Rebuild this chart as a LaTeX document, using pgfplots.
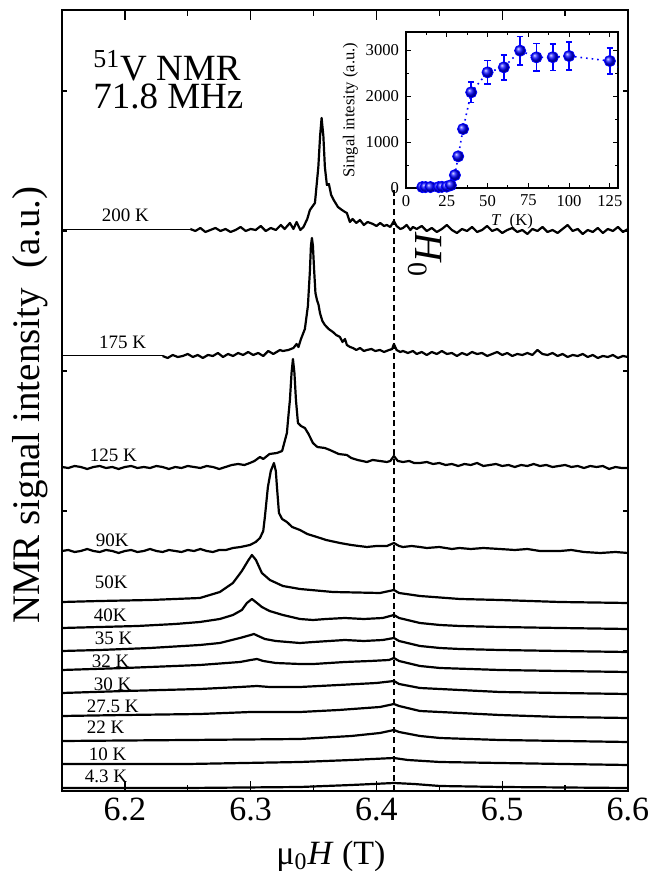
\documentclass[border=0pt]{standalone}
\usepackage{fontspec}
\setmainfont{Liberation Serif}
\usepackage{pgfplots}
\pgfplotsset{compat=1.18}

\begin{document}
\begin{tikzpicture}
% page: 668 x 871 px at 0.5pt per px, axis corner at (0,0)
\path[use as bounding box] (-31pt,-40pt) rectangle (303pt,395.5pt);

\begin{axis}[
  at={(0,0)}, anchor=south west,
  scale only axis, width=283pt, height=390.5pt,
  xmin=6.15, xmax=6.6, ymin=0, ymax=781,
  xtick={6.2,6.3,6.4,6.5,6.6}, minor x tick num=1,
  ytick=\empty,
  extra y ticks={140,280,420,560,700}, extra y tick labels={},
  extra y tick style={major tick length=2.5pt},
  major tick length=5pt, minor tick length=3pt,
  tick style={black, line width=0.7pt},
  axis line style={line width=1pt},
  xticklabel style={/pgf/number format/fixed, /pgf/number format/precision=1,
    /pgf/number format/fixed zerofill},
  /pgf/number format/assume math mode=true,
  tick label style={font=\fontsize{17}{17}\selectfont},
  xlabel={μ\textsubscript{0}\textit{H} (T)},
  xlabel style={font=\fontsize{17}{17}\selectfont, at={(rel axis cs:0.5,0)}, anchor=base, yshift=-36.5pt, xshift=-7pt},
  ylabel={NMR signal intensity~ (a.u.)},
  ylabel style={font=\fontsize{19.5}{19.5}\selectfont, at={(rel axis cs:-0.0565,0.494)}, anchor=center},
  spec/.style={black, line width=1.1pt, line join=round, mark=none},
]

% dashed H0 line
\addplot[black, line width=0.6pt, dash pattern=on 3pt off 1.8pt] coordinates {(6.414,0) (6.414,603)};

% 200 K
\addplot[black, line width=0.5pt] coordinates {(6.15,561) (6.252,561)};
\addplot[spec] coordinates {
(6.252,562) (6.256,560) (6.260,563) (6.264,559) (6.268,561) (6.272,563) (6.276,560) (6.280,562)
(6.284,559) (6.288,561) (6.292,564) (6.296,560) (6.300,562) (6.304,561) (6.308,565) (6.312,560)
(6.316,563) (6.320,561) (6.324,566) (6.327,562) (6.3312,568) (6.334,562) (6.3365,569) (6.3395,561)
(6.342,564) (6.345,572) (6.3471,581) (6.3511,588) (6.3538,624) (6.3552,655) (6.3564,673) (6.3578,655)
(6.3590,624) (6.3606,606) (6.3622,607) (6.3640,596) (6.3660,591) (6.3694,584) (6.3726,581) (6.3750,579)
(6.3765,578) (6.3789,569) (6.381,572) (6.384,568) (6.3869,571) (6.390,566) (6.393,569) (6.3972,567)
(6.400,565) (6.403,568) (6.406,565) (6.4083,566) (6.411,564) (6.4139,570) (6.416,565) (6.419,562)
(6.4211,563) (6.424,566) (6.427,561) (6.429,564) (6.432,562) (6.436,565) (6.440,560) (6.444,563)
(6.448,559) (6.452,562) (6.456,566) (6.460,561) (6.464,558) (6.468,562) (6.472,560) (6.476,564)
(6.480,559) (6.484,561) (6.488,565) (6.492,560) (6.496,562) (6.500,558) (6.504,561) (6.508,563)
(6.512,559) (6.516,561) (6.520,557) (6.524,562) (6.528,560) (6.532,564) (6.536,559) (6.540,561)
(6.544,558) (6.548,562) (6.552,566) (6.556,560) (6.560,562) (6.564,557) (6.568,561) (6.572,559)
(6.576,563) (6.580,558) (6.584,562) (6.588,560) (6.592,564) (6.596,559) (6.600,562)
};

% 175 K
\addplot[black, line width=0.5pt] coordinates {(6.15,435) (6.230,435)};
\addplot[spec] coordinates {
(6.230,435) (6.234,433) (6.238,436) (6.242,434) (6.246,435) (6.250,437) (6.254,434) (6.258,436)
(6.262,433) (6.266,436) (6.270,435) (6.274,438) (6.278,434) (6.282,437) (6.286,435) (6.290,438)
(6.294,436) (6.298,439) (6.302,436) (6.306,438) (6.310,435) (6.314,440) (6.318,437) (6.3233,441)
(6.3256,440) (6.3300,441) (6.3340,443) (6.3365,447) (6.3380,444) (6.3400,452) (6.3431,462) (6.3455,485)
(6.3471,520) (6.3479,545) (6.3487,553) (6.3495,545) (6.3505,520) (6.3515,498) (6.3527,491) (6.3540,486)
(6.3551,478) (6.3570,470) (6.3590,466) (6.3620,462) (6.3654,459) (6.3680,456) (6.3710,454) (6.3730,449)
(6.3750,452) (6.3765,446) (6.3790,444) (6.3813,443) (6.3840,441) (6.3870,443) (6.3900,440) (6.3924,441)
(6.3960,442) (6.3990,440) (6.4028,441) (6.4060,439) (6.4100,441) (6.4125,442) (6.4139,447) (6.4160,441)
(6.4190,439) (6.4211,440) (6.4250,438) (6.4290,440) (6.4320,437) (6.436,439) (6.440,436) (6.444,439)
(6.448,437) (6.452,440) (6.456,437) (6.460,438) (6.464,435) (6.468,438) (6.472,436) (6.476,439)
(6.480,437) (6.484,438) (6.488,435) (6.492,437) (6.496,439) (6.500,436) (6.504,438) (6.508,435)
(6.512,437) (6.516,436) (6.520,438) (6.524,436) (6.528,441) (6.532,437) (6.536,436) (6.540,438)
(6.544,435) (6.548,437) (6.552,434) (6.556,436) (6.560,435) (6.564,437) (6.568,434) (6.572,436)
(6.576,433) (6.580,435) (6.584,434) (6.588,436) (6.592,433) (6.596,435) (6.600,434)
};

% 125 K
\addplot[spec] coordinates {
(6.150,324) (6.155,323) (6.160,325) (6.165,324) (6.170,322) (6.175,324) (6.180,325) (6.185,323)
(6.190,324) (6.195,322) (6.200,324) (6.205,325) (6.210,323) (6.215,324) (6.220,323) (6.225,325)
(6.230,324) (6.235,322) (6.240,324) (6.245,323) (6.250,325) (6.255,324) (6.260,323) (6.265,325)
(6.270,324) (6.275,322) (6.280,324) (6.285,326) (6.290,327) (6.295,326) (6.2994,328) (6.3030,330)
(6.3074,334) (6.3100,332) (6.3150,337) (6.3209,338) (6.3250,340) (6.3288,358) (6.3300,375) (6.3312,391)
(6.3325,418) (6.3336,432) (6.3348,418) (6.3360,391) (6.3376,368) (6.3400,365) (6.3431,363) (6.3460,357)
(6.3495,348) (6.3530,344) (6.3590,343) (6.3630,341) (6.3700,337) (6.3765,336) (6.3800,333) (6.3850,331)
(6.3924,329) (6.3970,331) (6.4028,330) (6.4083,329) (6.4110,330) (6.4139,335) (6.4170,330) (6.4211,329)
(6.4260,330) (6.4300,328) (6.4346,328) (6.440,329) (6.445,327) (6.450,328) (6.455,326) (6.460,327)
(6.465,325) (6.470,327) (6.475,326) (6.480,328) (6.485,325) (6.490,326) (6.495,327) (6.500,325)
(6.505,326) (6.510,324) (6.515,326) (6.520,325) (6.525,327) (6.530,325) (6.535,326) (6.540,324)
(6.545,325) (6.550,326) (6.555,324) (6.560,325) (6.565,323) (6.570,325) (6.575,324) (6.580,325)
(6.585,322) (6.590,324) (6.595,323) (6.600,323)
};

% 90 K
\addplot[spec] coordinates {
(6.150,240) (6.155,241) (6.160,239) (6.165,240) (6.170,242) (6.175,240) (6.180,239) (6.185,241)
(6.190,240) (6.195,238) (6.200,240) (6.205,241) (6.210,239) (6.215,240) (6.220,242) (6.225,240)
(6.230,239) (6.235,241) (6.240,240) (6.245,239) (6.250,241) (6.255,240) (6.260,242) (6.265,240)
(6.270,239) (6.275,241) (6.2803,241) (6.2859,243) (6.2920,244) (6.2994,246) (6.3040,249) (6.3074,253)
(6.3100,260) (6.3113,274) (6.3137,304) (6.3160,320) (6.3185,328) (6.3200,320) (6.3209,304) (6.3225,278)
(6.3250,272) (6.3288,269) (6.3330,264) (6.3392,261) (6.3450,257) (6.3527,254) (6.3600,251) (6.3710,248)
(6.3800,246) (6.3860,245) (6.3924,244) (6.4000,245) (6.4083,245) (6.4139,248) (6.4180,245) (6.4211,244)
(6.4280,245) (6.4346,244) (6.440,243) (6.450,244) (6.460,242) (6.466,243) (6.475,242) (6.485,243)
(6.498,242) (6.510,241) (6.520,242) (6.530,240) (6.546,240) (6.555,241) (6.565,239) (6.578,238)
(6.590,239) (6.600,238)
};

% 50 K
\addplot[spec] coordinates {
(6.150,189) (6.180,190) (6.220,191) (6.2596,193) (6.2755,199) (6.2859,208) (6.2930,220) (6.2978,230)
(6.3010,236) (6.3042,231) (6.3089,218) (6.3153,211) (6.3256,205) (6.3392,202) (6.3654,199) (6.4028,198)
(6.4139,201) (6.4180,198) (6.4346,195) (6.4664,192) (6.4982,191) (6.5459,189) (6.6000,188)
};

% 40 K
\addplot[spec] coordinates {
(6.150,163) (6.180,164) (6.210,165) (6.240,167) (6.2596,169) (6.2755,172) (6.2859,176) (6.2930,181)
(6.2970,188) (6.3010,192) (6.3050,188) (6.3089,184) (6.3150,180) (6.3256,176) (6.3392,172) (6.3495,171)
(6.3600,172) (6.3749,173) (6.3900,172) (6.4050,173) (6.4139,176) (6.4180,173) (6.4346,168) (6.4505,166)
(6.4664,165) (6.4982,164) (6.5459,163) (6.6000,162)
};

% 35 K
\addplot[spec] coordinates {
(6.150,140) (6.180,141) (6.2199,143) (6.2596,146) (6.2755,148) (6.2915,153) (6.3000,156) (6.3026,157)
(6.3060,155) (6.3113,152) (6.3200,150) (6.3392,148) (6.3500,149) (6.3749,151) (6.3900,150) (6.4050,151)
(6.4139,153) (6.4180,150) (6.4346,145) (6.4505,143) (6.4664,142) (6.4982,141) (6.5459,140) (6.6000,139)
};

% 32 K
\addplot[spec] coordinates {
(6.150,121) (6.200,123) (6.2596,126) (6.2915,129) (6.3000,131) (6.3050,132) (6.3100,130) (6.3200,128)
(6.3392,127) (6.3500,127) (6.3749,129) (6.3950,130) (6.4100,131) (6.4139,133) (6.4180,130) (6.4346,125)
(6.4505,123) (6.4982,121) (6.5459,120) (6.6000,119)
};

% 30 K
\addplot[spec] coordinates {
(6.150,98) (6.200,100) (6.2596,102) (6.2915,104) (6.3050,105) (6.3150,104) (6.3392,104) (6.3700,106)
(6.4000,108) (6.4139,110) (6.4180,107) (6.4346,103) (6.4505,102) (6.4982,99) (6.5459,98) (6.6000,97)
};

% 27.5 K
\addplot[spec] coordinates {
(6.150,75) (6.200,76) (6.2596,77) (6.3000,79) (6.3392,79) (6.3700,81) (6.4028,84) (6.4139,87)
(6.4180,85) (6.4346,80) (6.4505,79) (6.4982,76) (6.5459,74) (6.6000,73)
};

% 22 K
\addplot[spec] coordinates {
(6.150,50) (6.250,51) (6.3392,52) (6.3800,55) (6.4028,58) (6.4139,61) (6.4180,59) (6.4346,55)
(6.4505,53) (6.4982,51) (6.6000,49)
};

% 10 K
\addplot[spec] coordinates {
(6.150,27) (6.250,27) (6.3392,29) (6.3800,31) (6.4139,33) (6.4250,31) (6.4505,29) (6.4982,28) (6.6000,26)
};

% 4.3 K
\addplot[spec] coordinates {
(6.150,3) (6.250,3) (6.3392,4) (6.3800,6) (6.4139,8) (6.4300,7) (6.4505,5) (6.5000,4) (6.6000,3)
};

\begin{scope}[font=\fontsize{9.5}{10}\selectfont]
\node[anchor=base west] at (axis cs:6.1761,569) {200 K};
\node[anchor=base west] at (axis cs:6.1738,442) {175 K};
\node[anchor=base west] at (axis cs:6.1666,329) {125 K};
\node[anchor=base west] at (axis cs:6.1714,244) {90K};
\node[anchor=base west] at (axis cs:6.1706,202) {50K};
\node[anchor=base west] at (axis cs:6.1698,169) {40K};
\node[anchor=base west] at (axis cs:6.1706,146) {35 K};
\node[anchor=base west] at (axis cs:6.1682,123) {32 K};
\node[anchor=base west] at (axis cs:6.1698,100) {30 K};
\node[anchor=base west] at (axis cs:6.1642,78) {27.5 K};
\node[anchor=base west] at (axis cs:6.1642,57) {22 K};
\node[anchor=base west] at (axis cs:6.1658,31) {10 K};
\node[anchor=base west] at (axis cs:6.1626,9) {4.3 K};
\end{scope}

\node[anchor=north west, align=left, inner sep=0pt, font=\fontsize{18.5}{14}\selectfont]
  at (axis cs:6.1746,741) {\textsuperscript{51}V NMR\\71.8 MHz};
\node[rotate=-90, font=\fontsize{20}{20}\selectfont] at (axis cs:6.4386,536) {\textit{H}\textsubscript{0}};
\end{axis}

% inset
\begin{axis}[
  at={(172pt,301.5pt)}, anchor=south west,
  scale only axis, width=106pt, height=78pt,
  xmin=0, xmax=130, ymin=0, ymax=3400,
  xtick={0,25,...,125}, minor x tick num=1,
  ytick={0,1000,2000,3000}, minor y tick num=1,
  scaled ticks=false,
  /pgf/number format/1000 sep={},
  /pgf/number format/assume math mode=true,
  major tick length=2.5pt, minor tick length=1.5pt,
  tick style={black, line width=0.5pt},
  axis line style={line width=0.7pt},
  tick label style={font=\fontsize{8.3}{8.3}\selectfont},
  label style={font=\fontsize{8.3}{8.3}\selectfont},
  xlabel={\textit{T}~ (K)},
  xlabel style={yshift=3pt},
  ylabel={Singal intesity (a.u.)},
  ylabel style={yshift=-3pt},
]
\addplot[blue, dotted, line width=0.8pt] coordinates {
(10,20) (12,20) (15,20) (20,20) (22,25) (25,30) (27.5,60) (30,280) (32,690) (35,1285) (40,2085)
(50,2520) (60,2629) (70,2992) (80,2847) (90,2850) (100,2876) (125,2767) (130,2640)
};
\addplot[blue, only marks, mark=ball, mark size=2.8pt, ball color=blue,
  error bars/.cd, y dir=both, y explicit,
  error bar style={blue, line width=0.9pt},
  error mark options={rotate=90, mark size=1.6pt, blue, line width=0.9pt}]
coordinates {
(10,20) +- (0,0) (12,20) +- (0,0) (15,20) +- (0,0) (20,20) +- (0,0) (22,25) +- (0,0)
(25,30) +- (0,0) (27.5,60) +- (0,0) (30,280) +- (0,0) (32,690) +- (0,0) (35,1285) +- (0,0)
(40,2085) +- (0,220) (50,2520) +- (0,260) (60,2629) +- (0,270) (70,2992) +- (0,310)
(80,2847) +- (0,300) (90,2850) +- (0,290) (100,2876) +- (0,300) (125,2767) +- (0,280)
};
\end{axis}
\end{tikzpicture}
\end{document}
